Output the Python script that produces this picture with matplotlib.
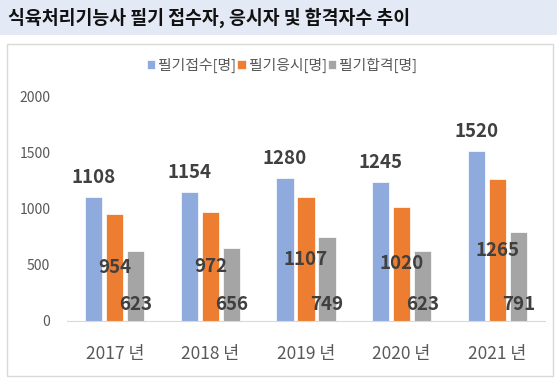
import matplotlib
matplotlib.use('Agg')
import matplotlib.pyplot as plt
from matplotlib.patches import Rectangle
import numpy as np

plt.rcParams['font.family'] = ['Noto Sans CJK KR', 'DejaVu Sans']

# data
years = ['2017 년', '2018 년', '2019 년', '2020 년', '2021 년']
applied = [1108, 1154, 1280, 1245, 1520]   # 필기접수
took = [954, 972, 1107, 1020, 1265]        # 필기응시
passed = [623, 656, 749, 623, 791]         # 필기합격
series_names = ['필기접수[명]', '필기응시[명]', '필기합격[명]']
colors = ['#8FAADC', '#ED7D31', '#A5A5A5']

fig = plt.figure(figsize=(5.57, 3.82), dpi=100)

# title bar
fig.patches.append(Rectangle((0, 1 - 35/382), 1, 35/382, transform=fig.transFigure,
                             facecolor='#E4EAF5', edgecolor='none', zorder=-2))
fig.text(8/557, 1 - 18/382, '식육처리기능사 필기 접수자, 응시자 및 합격자수 추이',
         fontsize=13.2, fontweight='bold', color='#111111', va='center', ha='left')
# chart box
fig.patches.append(Rectangle((7/557, 1 - 376/382), 546/557, 332/382, transform=fig.transFigure,
                             facecolor='white', edgecolor='#D9D9D9', linewidth=1, zorder=-2))

ax = fig.add_axes([67/557, 1 - 321/382, 478/557, 224/382])
x = np.arange(len(years))
w = 0.18
off = 0.22
b1 = ax.bar(x - off, applied, w, color=colors[0], label=series_names[0], edgecolor='white', linewidth=0.5)
b2 = ax.bar(x, took, w, color=colors[1], label=series_names[1], edgecolor='white', linewidth=0.5)
b3 = ax.bar(x + off, passed, w, color=colors[2], label=series_names[2], edgecolor='white', linewidth=0.5)

lab_kw = dict(fontsize=13.5, fontweight='bold', color='#404040')
ax.bar_label(b1, labels=[str(v) for v in applied], padding=7, **lab_kw)
ax.bar_label(b2, labels=[str(v) for v in took], label_type='center', **lab_kw)
for xi, v in zip(x + off, passed):
    ax.annotate(str(v), xy=(xi, 0), xytext=(0, 17), textcoords='offset pixels',
                ha='center', va='center', **lab_kw)

ax.set_xlim(-0.5, 4.5)
ax.set_ylim(0, 2000)
ax.set_yticks([0, 500, 1000, 1500, 2000])
ax.set_xticks(x)
ax.set_xticklabels(years)
ax.tick_params(axis='y', length=0, labelsize=10, labelcolor='#595959', pad=12)
ax.tick_params(axis='x', length=0, labelsize=12.5, labelcolor='#595959', pad=17)
for s in ['top', 'right', 'left']:
    ax.spines[s].set_visible(False)
ax.spines['bottom'].set_color('#D9D9D9')
ax.patch.set_alpha(0)

leg = fig.legend(loc='center', bbox_to_anchor=(282/557, 1 - 65/382), ncol=3, frameon=False,
                 fontsize=10.7, handlelength=0.55, handleheight=0.55, handletextpad=0.2,
                 columnspacing=0.1, labelcolor='#595959')

fig.savefig('out.png', dpi=100)
